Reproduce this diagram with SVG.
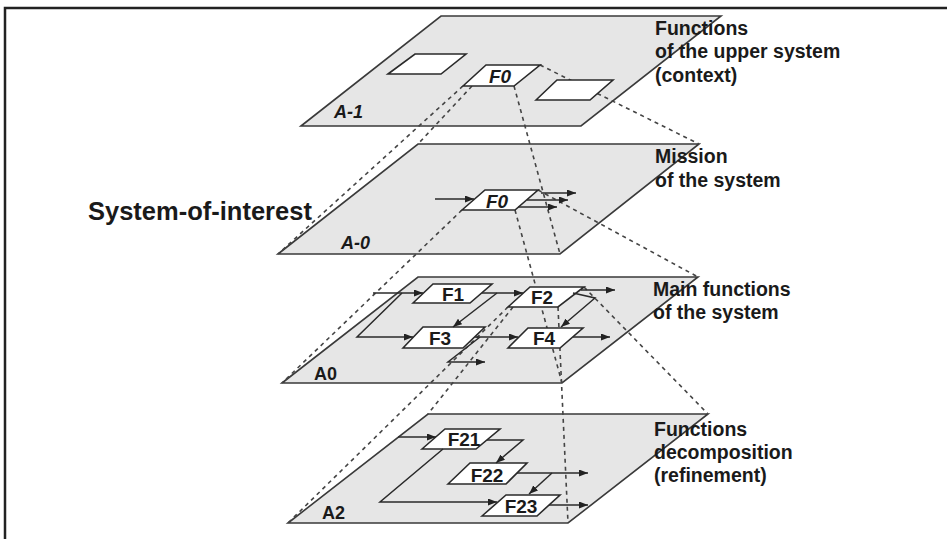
<svg xmlns="http://www.w3.org/2000/svg" width="947" height="539" viewBox="0 0 947 539">
<defs>
<marker id="ah" markerUnits="userSpaceOnUse" markerWidth="9" markerHeight="7" refX="9" refY="3.5" orient="auto">
<path d="M0,0 L9,3.5 L0,7 z" fill="#222"/>
</marker>
<style>
.frame{fill:none;stroke:#222;stroke-width:2.5}
.plane{fill:#e6e6e6;stroke:#3a3a3a;stroke-width:1.6;stroke-linejoin:miter}
.box{fill:#fff;stroke:#2a2a2a;stroke-width:1.6}
.proj{fill:none;stroke:#444;stroke-width:1.6;stroke-dasharray:4 4}
.flow{fill:none;stroke:#2a2a2a;stroke-width:1.5}
.arr{marker-end:url(#ah)}
.lbl{font-family:"Liberation Sans",Arial,sans-serif;font-weight:bold;fill:#1a1a1a}
.side{font-size:19.5px}
.flab{font-size:19px;text-anchor:middle}
.alab{font-size:18px}
.it{font-style:italic}
</style>
</defs>
<rect width="947" height="539" fill="#fff"/>
<path class="frame" d="M5,539 L5,8 L947,8"/>

<g id="plane-A-1">
<polygon class="plane" points="301,126 441,16 721,16 581,126"/>
<text class="lbl alab it" x="334" y="118">A-1</text>
</g>
<g id="plane-A-0">
<polygon class="plane" points="278,254 418,144 699,144 560,254"/>
<text class="lbl alab it" x="341" y="249">A-0</text>
</g>
<g id="plane-A0">
<polygon class="plane" points="282,383 418,277 698,277 562,383"/>
<text class="lbl alab" x="314" y="380">A0</text>
</g>
<g id="plane-A2">
<polygon class="plane" points="288,523 428,414 708,414 568,523"/>
<text class="lbl alab" x="322" y="519">A2</text>
</g>

<g id="projections">
<line class="proj" x1="463" y1="86" x2="278" y2="254"/>
<line class="proj" x1="472" y1="86" x2="418" y2="144"/>
<line class="proj" x1="514" y1="86" x2="560" y2="254"/>
<line class="proj" x1="540" y1="65" x2="699" y2="144"/>
<line class="proj" x1="462" y1="210" x2="282" y2="383"/>
<line class="proj" x1="515" y1="210" x2="562" y2="383"/>
<line class="proj" x1="538" y1="190" x2="698" y2="277"/>
<line class="proj" x1="508" y1="307" x2="288" y2="523"/>
<line class="proj" x1="513" y1="307" x2="428" y2="414"/>
<line class="proj" x1="558" y1="307" x2="568" y2="523"/>
<line class="proj" x1="584" y1="287" x2="708" y2="414"/>
</g>

<g id="ctx-box-left"><polygon class="box" points="388,74 415,54 466,54 441,74"/></g>
<g id="ctx-F0"><polygon class="box" points="463,86 486,65 540,65 514,86"/><text class="lbl flab it" x="500" y="83">F0</text></g>
<g id="ctx-box-right"><polygon class="box" points="536,100 557,80 613,80 590,100"/></g>

<g id="mission-F0"><polygon class="box" points="462,210 485,190 538,190 515,210"/><text class="lbl flab it" x="497" y="208">F0</text></g>

<g id="F1"><polygon class="box" points="413,303 433,284 492,284 470,303"/><text class="lbl flab" x="453" y="301">F1</text></g>
<g id="F2"><polygon class="box" points="508,307 530,287 584,287 558,307"/><text class="lbl flab" x="542" y="304">F2</text></g>
<g id="F3"><polygon class="box" points="403,348 423,327 485,327 463,348"/><text class="lbl flab" x="440" y="345">F3</text></g>
<g id="F4"><polygon class="box" points="508,348 528,328 583,328 560,348"/><text class="lbl flab" x="544" y="345">F4</text></g>

<g id="F21"><polygon class="box" points="422,449 445,429 500,429 476,449"/><text class="lbl flab" x="464" y="446">F21</text></g>
<g id="F22"><polygon class="box" points="448,484 470,463 527,463 506,484"/><text class="lbl flab" x="487" y="482">F22</text></g>
<g id="F23"><polygon class="box" points="482,516 506,495 560,495 537,516"/><text class="lbl flab" x="521" y="513">F23</text></g>

<g id="connectors">
<line class="flow arr" x1="435" y1="199" x2="474" y2="199"/>
<line class="flow arr" x1="541" y1="193" x2="576" y2="193"/>
<line class="flow arr" x1="527" y1="200" x2="568" y2="200"/>
<line class="flow arr" x1="518" y1="207" x2="557" y2="207"/>

<line class="flow arr" x1="373" y1="293" x2="423" y2="293"/>
<polyline class="flow arr" points="402,293 357,337 413,337"/>
<line class="flow arr" x1="482" y1="293" x2="523" y2="293"/>
<line class="flow arr" x1="497" y1="293" x2="453" y2="327"/>
<line class="flow arr" x1="581" y1="290" x2="615" y2="290"/>
<polyline class="flow arr" points="573,293 595,298 561,327"/>
<line class="flow arr" x1="475" y1="337" x2="518" y2="337"/>
<polyline class="flow arr" points="480,337 448,362 485,362"/>
<line class="flow arr" x1="573" y1="337" x2="610" y2="337"/>

<line class="flow arr" x1="398" y1="437" x2="436" y2="437"/>
<polyline class="flow arr" points="443,449 380,502 497,502"/>
<polyline class="flow arr" points="487,440 523,440 496,463"/>
<line class="flow arr" x1="517" y1="473" x2="588" y2="473"/>
<line class="flow arr" x1="552" y1="473" x2="529" y2="494"/>
<line class="flow arr" x1="549" y1="505" x2="588" y2="505"/>
</g>

<g id="labels">
<text class="lbl side" x="655"><tspan x="655" y="35">Functions</tspan><tspan x="655" y="58">of the upper system</tspan><tspan x="655" y="82">(context)</tspan></text>
<text class="lbl side" x="655"><tspan x="655" y="163">Mission</tspan><tspan x="655" y="187">of the system</tspan></text>
<text class="lbl side" x="653"><tspan x="653" y="296">Main functions</tspan><tspan x="653" y="319">of the system</tspan></text>
<text class="lbl side" x="654"><tspan x="654" y="436">Functions</tspan><tspan x="654" y="459">decomposition</tspan><tspan x="654" y="482">(refinement)</tspan></text>
<text class="lbl" x="88" y="220" font-size="25.5">System-of-interest</text>
</g>
</svg>
